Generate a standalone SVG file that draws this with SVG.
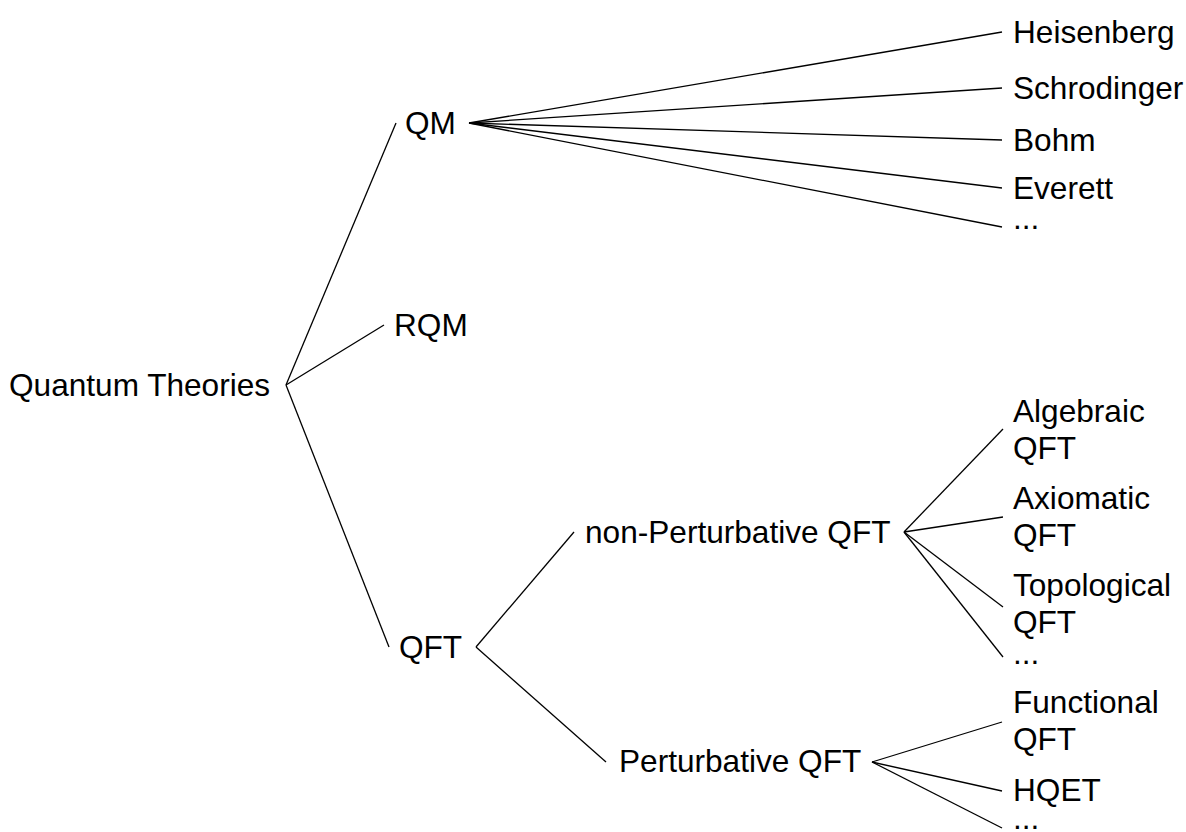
<svg xmlns="http://www.w3.org/2000/svg" width="1186" height="832" viewBox="0 0 1186 832">
<style>
text{font-family:"Liberation Sans",Arial,sans-serif;font-size:31.6px;fill:#000}
.e line{stroke:#000;stroke-width:1.3}
</style>
<rect width="1186" height="832" fill="#fff"/>
<g id="connectors" class="e">
<line x1="286" y1="385" x2="396" y2="123"/>
<line x1="286" y1="385" x2="384" y2="325"/>
<line x1="286" y1="385" x2="389" y2="647"/>
<line x1="469" y1="123" x2="1002" y2="32"/>
<line x1="469" y1="123" x2="1002" y2="88"/>
<line x1="469" y1="123" x2="1002" y2="140"/>
<line x1="469" y1="123" x2="1002" y2="188"/>
<line x1="469" y1="123" x2="1002" y2="227"/>
<line x1="476" y1="647" x2="574" y2="532"/>
<line x1="476" y1="647" x2="606" y2="762"/>
<line x1="904" y1="532" x2="1003" y2="429"/>
<line x1="904" y1="532" x2="1003" y2="517"/>
<line x1="904" y1="532" x2="1003" y2="607"/>
<line x1="904" y1="532" x2="1003" y2="657"/>
<line x1="872" y1="762" x2="1002" y2="722"/>
<line x1="872" y1="762" x2="1002" y2="791"/>
<line x1="872" y1="762" x2="1002" y2="828"/>
</g>
<g id="root"><text x="9" y="396">Quantum Theories</text></g>
<g id="qm"><text x="405" y="134">QM</text></g>
<g id="rqm"><text x="394" y="336">RQM</text></g>
<g id="qft"><text x="399" y="658">QFT</text></g>
<g id="heisenberg"><text x="1013" y="43">Heisenberg</text></g>
<g id="schrodinger"><text x="1013" y="99">Schrodinger</text></g>
<g id="bohm"><text x="1013" y="151">Bohm</text></g>
<g id="everett"><text x="1013" y="199">Everett</text></g>
<g id="qm-more"><text x="1013" y="229">...</text></g>
<g id="nonpert"><text x="585" y="543">non-Perturbative QFT</text></g>
<g id="pert"><text x="619" y="772">Perturbative QFT</text></g>
<g id="algebraic"><text x="1013" y="422">Algebraic</text><text x="1013" y="459">QFT</text></g>
<g id="axiomatic"><text x="1013" y="509">Axiomatic</text><text x="1013" y="546">QFT</text></g>
<g id="topological"><text x="1013" y="596">Topological</text><text x="1013" y="633">QFT</text></g>
<g id="nonpert-more"><text x="1013" y="664">...</text></g>
<g id="functional"><text x="1013" y="713">Functional</text><text x="1013" y="750">QFT</text></g>
<g id="hqet"><text x="1013" y="801">HQET</text></g>
<g id="pert-more"><text x="1013" y="829">...</text></g>
</svg>
